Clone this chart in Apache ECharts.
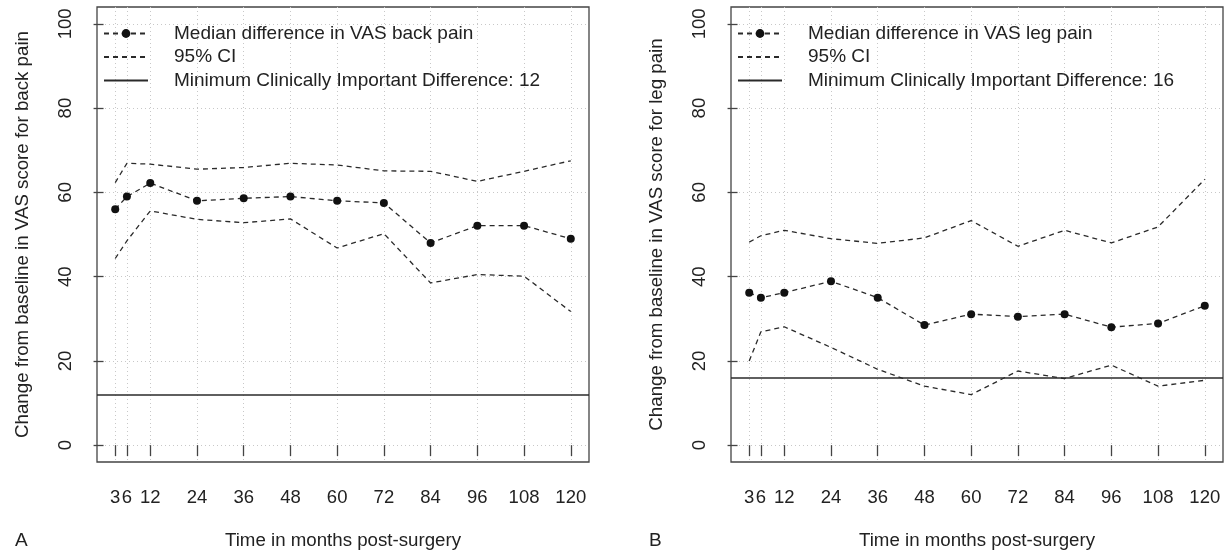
<!DOCTYPE html>
<html>
<head>
<meta charset="utf-8">
<script src="https://cdn.jsdelivr.net/npm/echarts@6/dist/echarts.min.js"></script>
<style>
html,body{margin:0;padding:0;background:#fff;}
#chart{width:1229px;height:555px;}
</style>
</head>
<body>
<div id="chart"></div>
<script>
// ---- data ----
var months = [3, 6, 12, 24, 36, 48, 60, 72, 84, 96, 108, 120];
var xTicks = [3, 6, 12, 24, 36, 48, 60, 72, 84, 96, 108, 120];
var yTicks = [0, 20, 40, 60, 80, 100];

var backMedian = [56, 59, 62.2, 58, 58.6, 59, 58, 57.5, 48, 52.1, 52.1, 49];
var backUpper  = [62.3, 66.9, 66.7, 65.5, 65.9, 66.9, 66.5, 65.1, 65, 62.6, 65, 67.5];
var backLower  = [44.3, 48.5, 55.6, 53.6, 52.8, 53.7, 46.8, 50.2, 38.5, 40.5, 40.1, 31.7];
var backMCID = 12;

var legMedian = [36.2, 35, 36.2, 38.9, 35, 28.5, 31.1, 30.5, 31.1, 28, 28.9, 33.1];
var legUpper  = [48.2, 49.7, 51, 49, 47.9, 49.2, 53.3, 47.2, 51, 48, 51.8, 63.1];
var legLower  = [20, 26.9, 28.1, 23.2, 18, 14, 12, 17.6, 15.8, 19, 14, 15.4];
var legMCID = 16;

var backNames = ['Median difference in VAS back pain', '95% CI', 'Minimum Clinically Important Difference: 12'];
var legNames  = ['Median difference in VAS leg pain', '95% CI', 'Minimum Clinically Important Difference: 16'];
var yTitles = ['Change from baseline in VAS score for back pain', 'Change from baseline in VAS score for leg pain'];
var xTitle = 'Time in months post-surgery';
var panelLetters = ['A', 'B'];

// ---- styling ----
var FONT = 'Liberation Sans, Arial, Helvetica, sans-serif';
var INK = '#222';
var LINE = '#2a2a2a';
var DASH = [5, 4];
var GRIDC = '#c8c8c8';
var xMin = -1.68, xMax = 124.68, yMin = -4, yMax = 104;
var gridLefts = [97, 731];

function pairs(xs, ys) { return xs.map(function (x, i) { return [x, ys[i]]; }); }

var grids = [], xAxes = [], yAxes = [], series = [], legends = [], graphics = [];
var panels = [
  {med: backMedian, up: backUpper, lo: backLower, mcid: backMCID, names: backNames},
  {med: legMedian, up: legUpper, lo: legLower, mcid: legMCID, names: legNames}
];

panels.forEach(function (p, k) {
  grids.push({left: gridLefts[k], top: 7, width: 492, height: 455, show: true,
    borderColor: '#444', borderWidth: 1.3, backgroundColor: 'transparent'});
  xAxes.push({
    type: 'value', gridIndex: k, min: xMin, max: xMax,
    axisLine: {show: false},
    axisTick: {show: true, length: 11, customValues: xTicks, lineStyle: {color: '#444', width: 1.3}},
    axisLabel: {customValues: xTicks, margin: 26, fontSize: 18.5, fontFamily: FONT, color: INK},
    splitLine: {show: true, lineStyle: {color: GRIDC, type: [1, 3], width: 1}},
    name: xTitle, nameLocation: 'middle', nameGap: 69,
    nameTextStyle: {fontSize: 18.7, fontFamily: FONT, color: INK}
  });
  yAxes.push({
    type: 'value', gridIndex: k, min: yMin, max: yMax,
    axisLine: {show: false},
    axisTick: {show: true, length: 10, customValues: yTicks, lineStyle: {color: '#444', width: 1.3}},
    axisLabel: {customValues: yTicks, rotate: 90, margin: 22, fontSize: 18.5, fontFamily: FONT, color: INK},
    splitLine: {show: true, lineStyle: {color: GRIDC, type: [1, 3], width: 1}},
    name: yTitles[k], nameLocation: 'middle', nameGap: 65, nameRotate: 90,
    nameTextStyle: {fontSize: 18.7, fontFamily: FONT, color: INK}
  });
  series.push({
    name: p.names[1], type: 'line', xAxisIndex: k, yAxisIndex: k,
    data: pairs(months, p.up), symbol: 'none',
    lineStyle: {color: LINE, width: 1.3, type: DASH}, itemStyle: {color: LINE}, z: 3
  });
  series.push({
    name: p.names[1], type: 'line', xAxisIndex: k, yAxisIndex: k,
    data: pairs(months, p.lo), symbol: 'none',
    lineStyle: {color: LINE, width: 1.3, type: DASH}, itemStyle: {color: LINE}, z: 3
  });
  series.push({
    name: p.names[2], type: 'line', xAxisIndex: k, yAxisIndex: k,
    data: [], symbol: 'none',
    lineStyle: {color: LINE, width: 1.5, type: 'solid'}, itemStyle: {color: LINE},
    markLine: {silent: true, symbol: ['none', 'none'], label: {show: false},
      lineStyle: {color: LINE, width: 1.5, type: 'solid'},
      data: [{yAxis: p.mcid}]}, z: 3
  });
  series.push({
    name: p.names[0], type: 'line', xAxisIndex: k, yAxisIndex: k,
    data: pairs(months, p.med), symbol: 'circle', symbolSize: 8, showSymbol: true,
    lineStyle: {color: LINE, width: 1.3, type: DASH}, itemStyle: {color: '#111'}, z: 4
  });
  legends.push({
    show: true, orient: 'vertical', left: gridLefts[k] + 1, top: 19,
    itemWidth: 44, itemHeight: 11, itemGap: 4.5,
    data: [
      {name: p.names[0]},
      {name: p.names[1], itemStyle: {opacity: 0}},
      {name: p.names[2], itemStyle: {opacity: 0}}
    ],
    selectedMode: false,
    textStyle: {fontSize: 19, fontFamily: FONT, color: INK, padding: [0, 0, 0, 21], lineHeight: 19}
  });
  graphics.push({type: 'text', left: gridLefts[k] - 82, top: 531,
    style: {text: panelLetters[k], fontSize: 19, fontFamily: FONT, fill: INK}});
});

var chart = echarts.init(document.getElementById('chart'), null, {renderer: 'canvas'});
chart.setOption({
  animation: false,
  backgroundColor: '#fff',
  grid: grids, xAxis: xAxes, yAxis: yAxes, series: series, legend: legends,
  graphic: graphics
});
</script>
</body>
</html>
